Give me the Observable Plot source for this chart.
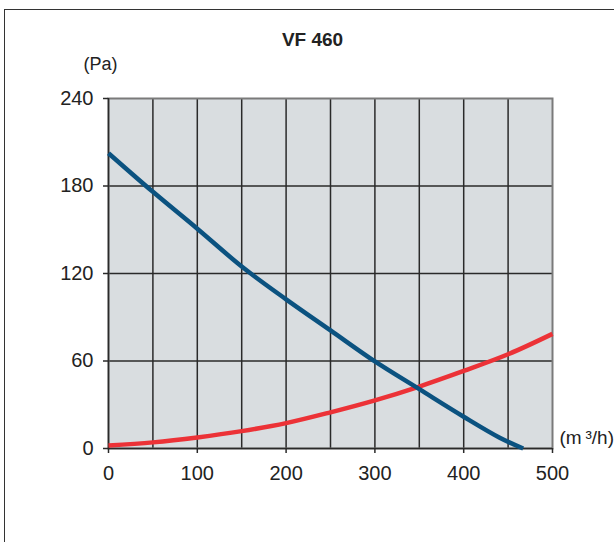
<!DOCTYPE html>
<html>
<head>
<meta charset="utf-8">
<script src="https://cdn.jsdelivr.net/npm/d3@7"></script>
<script src="https://cdn.jsdelivr.net/npm/@observablehq/plot@0.6"></script>
<style>
  html, body { margin: 0; padding: 0; background: #fff; overflow: hidden; }
  #wrap { position: relative; width: 614px; height: 542px; overflow: hidden; }
  #border { position: absolute; left: 4px; top: 9px; width: 700px; height: 700px; border: 1.5px solid #333; box-sizing: border-box; }
  #chart { position: absolute; left: 0; top: 0; }
</style>
</head>
<body>
<div id="wrap"><div id="border"></div><div id="chart"></div></div>
<script>
const title = "VF 460";
const yLabel = "(Pa)";
const xLabel = "(m\u2009³/h)";
const xTicks = [0, 100, 200, 300, 400, 500];
const yTicks = [0, 60, 120, 180, 240];
const xGrid = [50, 100, 150, 200, 250, 300, 350, 400, 450];
const yGrid = [60, 120, 180];

// blue curve: fan pressure vs flow
const flowBlue = [0, 50, 100, 150, 200, 250, 300, 350, 400, 440, 467];
const pressureBlue = [202.5, 176, 150.7, 124.8, 102.3, 81, 59.7, 40.7, 21.8, 7.6, 0];
// red curve: system pressure loss vs flow
const flowRed = [0, 50, 100, 150, 200, 250, 300, 350, 400, 450, 500];
const pressureRed = [2, 4.2, 7.6, 11.9, 17.4, 24.8, 33, 42.5, 53.2, 64.6, 78.6];

const blue = flowBlue.map((f, i) => ({f, p: pressureBlue[i]}));
const red = flowRed.map((f, i) => ({f, p: pressureRed[i]}));

const font = "'Liberation Sans', Arial, Helvetica, sans-serif";

const chart = Plot.plot({
  width: 614,
  height: 542,
  marginLeft: 108,
  marginRight: 62,
  marginTop: 98,
  marginBottom: 94,
  style: {fontFamily: font, color: "#222", background: "transparent", overflow: "visible"},
  x: {domain: [0, 500]},
  y: {domain: [0, 240]},
  marks: [
    Plot.frame({fill: "#d9dde0", stroke: null}),
    Plot.ruleX(xGrid, {stroke: "#2a2a2a", strokeWidth: 1.5}),
    Plot.ruleY(yGrid, {stroke: "#2a2a2a", strokeWidth: 1.5}),
    Plot.frame({stroke: "#7a7a7a", strokeWidth: 2}),
    Plot.ruleX([0], {stroke: "#2a2a2a", strokeWidth: 1.5}),
    Plot.ruleY([0], {stroke: "#2a2a2a", strokeWidth: 1.5}),
    Plot.axisX(xTicks, {tickSize: 5, tickPadding: 12, fontSize: 20, label: null, stroke: "#2a2a2a", strokeWidth: 1.5}),
    Plot.axisY(yTicks, {tickSize: 5, tickPadding: 10, fontSize: 20, label: null, stroke: "#2a2a2a", strokeWidth: 1.5}),
    Plot.line(red, {x: "f", y: "p", stroke: "#ec3237", strokeWidth: 4.5, curve: "catmull-rom", strokeLinecap: "butt"}),
    Plot.line(blue, {x: "f", y: "p", stroke: "#0b5280", strokeWidth: 4.5, curve: "catmull-rom", strokeLinecap: "butt"}),
    Plot.text([title], {frameAnchor: "top", dx: -18, dy: -53, lineAnchor: "bottom", fontSize: 19, fontWeight: "bold", fill: "#222"}),
    Plot.text([yLabel], {frameAnchor: "top-left", textAnchor: "middle", dx: -8, dy: -29, lineAnchor: "bottom", fontSize: 18, fill: "#222"}),
    Plot.text([xLabel], {frameAnchor: "bottom-right", textAnchor: "start", dx: 7, dy: -5, lineAnchor: "bottom", fontSize: 19, fill: "#222"})
  ]
});
document.getElementById("chart").appendChild(chart);
</script>
</body>
</html>
